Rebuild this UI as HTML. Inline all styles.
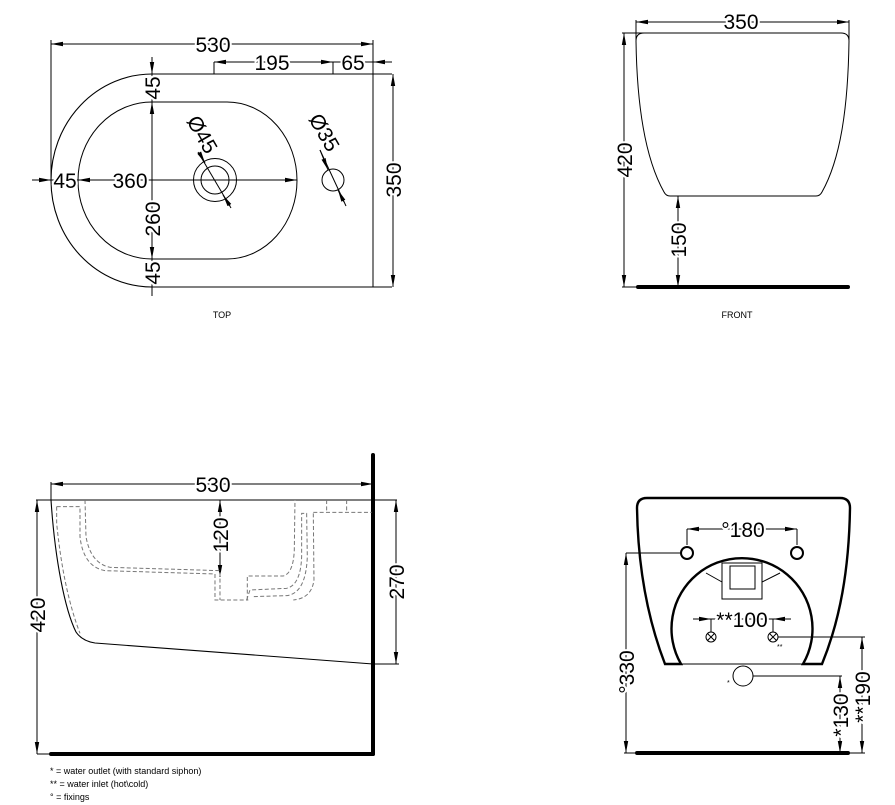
<!DOCTYPE html>
<html><head><meta charset="utf-8"><style>
html,body{margin:0;padding:0;background:#fff}
svg{display:block}
.d{font-family:"Liberation Sans",Arial,sans-serif;font-size:21px;fill:#000;paint-order:stroke;stroke:#fff;stroke-width:4px}
.s{font-family:"Liberation Sans",Arial,sans-serif;font-size:9px;fill:#000}
</style></head><body>
<svg width="895" height="805" viewBox="0 0 895 805" xmlns="http://www.w3.org/2000/svg">
<defs>
<marker id="a" viewBox="0 0 12 6" refX="12" refY="3" markerWidth="12" markerHeight="6" markerUnits="userSpaceOnUse" orient="auto-start-reverse"><path d="M0,0.8 L12,3 L0,5.2Z" fill="#000"/></marker>
</defs>
<g fill="none" stroke="#000" stroke-width="1">
<!-- TOP VIEW -->
<line x1="51" y1="44" x2="373" y2="44" marker-start="url(#a)" marker-end="url(#a)"/>
<line x1="51" y1="40" x2="51" y2="181"/>
<line x1="373" y1="40" x2="373" y2="287"/>
<path d="M152,74 L392,74 M152,287 L392,287 M152,74 A101,106.5 0 0 0 152,287" stroke-width="1.1"/>
<line x1="393" y1="74" x2="393" y2="287" marker-start="url(#a)" marker-end="url(#a)"/>
<path d="M152,102 L227,102 A70,78.5 0 0 1 227,259 L152,259 A74,78.5 0 0 1 152,102 Z"/>
<line x1="152" y1="57" x2="152" y2="74" marker-end="url(#a)"/>
<line x1="152" y1="74" x2="152" y2="102" />
<line x1="152" y1="122" x2="152" y2="102" marker-end="url(#a)"/>
<line x1="152" y1="102" x2="152" y2="259"/>
<line x1="152" y1="240" x2="152" y2="259" marker-end="url(#a)"/>
<line x1="152" y1="259" x2="152" y2="296"/>
<line x1="152" y1="270" x2="152" y2="287" marker-end="url(#a)"/>
<line x1="32" y1="180" x2="51" y2="180" marker-end="url(#a)"/>
<line x1="51" y1="180" x2="297" y2="180"/>
<line x1="95" y1="180" x2="78" y2="180" marker-end="url(#a)"/>
<line x1="280" y1="180" x2="297" y2="180" marker-end="url(#a)"/>
<circle cx="215" cy="180" r="21.5"/>
<circle cx="215" cy="180" r="14"/>
<line x1="198" y1="152" x2="231" y2="208"/>
<line x1="200" y1="154" x2="205" y2="163" marker-end="url(#a)"/>
<line x1="230" y1="206" x2="223" y2="195" marker-end="url(#a)"/>
<circle cx="333" cy="180" r="11"/>
<line x1="320" y1="150" x2="346" y2="206"/>
<line x1="320" y1="150" x2="328" y2="170" marker-end="url(#a)"/>
<line x1="344" y1="202" x2="338" y2="190" marker-end="url(#a)"/>
<line x1="214" y1="62" x2="333" y2="62" marker-start="url(#a)" marker-end="url(#a)"/>
<line x1="214" y1="62" x2="214" y2="74"/>
<line x1="333" y1="62" x2="333" y2="74"/>
<line x1="333" y1="62" x2="392" y2="62"/>
<line x1="392" y1="62" x2="373" y2="62" marker-end="url(#a)"/>

<!-- FRONT VIEW -->
<line x1="636" y1="22" x2="849" y2="22" marker-start="url(#a)" marker-end="url(#a)"/>
<line x1="636" y1="20" x2="636" y2="40"/>
<line x1="849" y1="20" x2="849" y2="40"/>
<path d="M644,33 L841,33 Q849,33 849,41 C848,110 840,160 822,192 Q820,196 816,196 L670,196 Q666,196 664,192 C646,160 637,110 636,41 Q636,33 644,33 Z"/>
<line x1="622" y1="33" x2="662" y2="33"/>
<line x1="624" y1="33" x2="624" y2="287" marker-start="url(#a)" marker-end="url(#a)"/>
<line x1="622" y1="287" x2="640" y2="287"/>
<line x1="678" y1="196" x2="678" y2="287" marker-start="url(#a)" marker-end="url(#a)"/>
<line x1="638" y1="287" x2="848" y2="287" stroke-width="4" stroke-linecap="round"/>

<!-- SIDE VIEW -->
<line x1="373" y1="455" x2="373" y2="754" stroke-width="4" stroke-linecap="round"/>
<line x1="51" y1="754" x2="373" y2="754" stroke-width="4" stroke-linecap="round"/>
<line x1="51" y1="484" x2="373" y2="484" marker-start="url(#a)" marker-end="url(#a)"/>
<line x1="51" y1="482" x2="51" y2="500"/>
<line x1="36" y1="500" x2="397" y2="500"/>
<line x1="37" y1="500" x2="37" y2="754" marker-start="url(#a)" marker-end="url(#a)"/>
<line x1="37" y1="754" x2="51" y2="754"/>
<line x1="396" y1="500" x2="396" y2="664" marker-start="url(#a)" marker-end="url(#a)"/>
<line x1="373" y1="664" x2="399" y2="664"/>
<path d="M51,500 C55,560 65,610 76,632 Q82,641 95,643 L373,664" stroke-width="1.1"/>
<line x1="220" y1="500" x2="220" y2="577" marker-start="url(#a)" marker-end="url(#a)"/>
<g transform="translate(30 450) scale(0.3333)" stroke="#777" stroke-width="3" stroke-dasharray="12 7">
<path d="M80,170 L150,170 L150,260 Q160,350 225,362 L555,372 L555,450 L655,450"/>
<path d="M165,150 L168,260 Q182,340 240,352 L570,362 L570,450"/>
<path d="M80,170 L80,220 Q100,420 150,550"/>
<path d="M650,450 L660,420 L770,415 Q812,405 815,320 L815,190 L830,190 L832,320 Q828,430 770,437 L665,440"/>
<path d="M652,450 L652,378 L760,378 Q790,370 793,300 L795,150"/>
<path d="M850,190 L852,390 Q845,445 790,450"/>
<path d="M850,187 L1025,187 M890,150 L890,187 M950,150 L950,187"/>
</g>

<!-- BACK VIEW -->
<path d="M647,498 L840,498 Q850,498 850,508 C849,570 840,620 822,664 L803,664 A70.5,70.5 0 1 0 681,664 L665,664 C648,620 638,570 637,508 Q637,498 647,498 Z" stroke-width="2.4"/>
<line x1="681" y1="664" x2="803" y2="664"/>
<circle cx="687" cy="553" r="6" stroke-width="2"/>
<circle cx="797" cy="553" r="6" stroke-width="2"/>
<line x1="687" y1="529" x2="797" y2="529" marker-start="url(#a)" marker-end="url(#a)"/>
<line x1="687" y1="529" x2="687" y2="545"/>
<line x1="797" y1="529" x2="797" y2="545"/>
<rect x="722" y="563" width="40" height="36"/>
<rect x="730" y="566" width="25" height="23"/>
<path d="M706,573 L722,582 M780,573 L762,582"/>
<line x1="693" y1="619" x2="711" y2="619" marker-end="url(#a)"/>
<line x1="711" y1="619" x2="773" y2="619"/>
<line x1="791" y1="619" x2="773" y2="619" marker-end="url(#a)"/>
<line x1="711" y1="619" x2="711" y2="632"/>
<line x1="773" y1="619" x2="773" y2="632"/>
<circle cx="711" cy="637" r="5"/><path d="M707.5,633.5 L714.5,640.5 M714.5,633.5 L707.5,640.5"/>
<circle cx="773" cy="637" r="5"/><path d="M769.5,633.5 L776.5,640.5 M776.5,633.5 L769.5,640.5"/>
<line x1="778" y1="637" x2="865" y2="637"/>
<circle cx="743" cy="676" r="10"/>
<line x1="753" y1="676" x2="842" y2="676"/>
<line x1="626" y1="553" x2="681" y2="553"/>
<line x1="626" y1="553" x2="626" y2="753" marker-start="url(#a)" marker-end="url(#a)"/>
<line x1="840" y1="676" x2="840" y2="753" marker-start="url(#a)" marker-end="url(#a)"/>
<line x1="862" y1="637" x2="862" y2="753" marker-start="url(#a)" marker-end="url(#a)"/>
<line x1="624" y1="753" x2="865" y2="753"/>
<line x1="637" y1="753" x2="848" y2="753" stroke-width="4" stroke-linecap="round"/>
</g>

<!-- TEXT -->
<text class="d" x="213" y="52" text-anchor="middle">530</text>
<text class="d" x="272" y="70" text-anchor="middle">195</text>
<text class="d" x="353" y="70" text-anchor="middle">65</text>
<text class="d" x="65" y="188" text-anchor="middle">45</text>
<text class="d" x="130" y="188" text-anchor="middle">360</text>
<text class="d" transform="translate(160 88) rotate(-90)" text-anchor="middle">45</text>
<text class="d" transform="translate(160 219) rotate(-90)" text-anchor="middle">260</text>
<text class="d" transform="translate(160 273) rotate(-90)" text-anchor="middle">45</text>
<text class="d" transform="translate(401 180) rotate(-90)" text-anchor="middle">350</text>
<text class="d" transform="translate(196 138) rotate(60)" text-anchor="middle">Ø45</text>
<text class="d" transform="translate(318 136) rotate(60)" text-anchor="middle">Ø35</text>
<text class="s" x="222" y="318" text-anchor="middle">TOP</text>

<text class="d" x="741" y="29" text-anchor="middle">350</text>
<text class="d" transform="translate(632 160) rotate(-90)" text-anchor="middle">420</text>
<text class="d" transform="translate(686 240) rotate(-90)" text-anchor="middle">150</text>
<text class="s" x="737" y="318" text-anchor="middle">FRONT</text>

<text class="d" x="213" y="492" text-anchor="middle">530</text>
<text class="d" transform="translate(228 535) rotate(-90)" text-anchor="middle">120</text>
<text class="d" transform="translate(45 615) rotate(-90)" text-anchor="middle">420</text>
<text class="d" transform="translate(404 582) rotate(-90)" text-anchor="middle">270</text>
<text class="s" x="50" y="774">* = water outlet (with standard siphon)</text>
<text class="s" x="50" y="787">** = water inlet (hot\cold)</text>
<text class="s" x="50" y="800">° = fixings</text>

<text class="d" x="743" y="537" text-anchor="middle">°180</text>
<text class="d" x="742" y="627" text-anchor="middle">**100</text>
<text class="d" transform="translate(634 672) rotate(-90)" text-anchor="middle">°330</text>
<text class="d" transform="translate(848 715) rotate(-90)" text-anchor="middle">*130</text>
<text class="d" transform="translate(870 697) rotate(-90)" text-anchor="middle">**190</text>
<text class="s" x="777" y="649" style="font-size:7px">**</text>
<text class="s" x="727" y="685" style="font-size:7px">*</text>
</svg>
</body></html>
